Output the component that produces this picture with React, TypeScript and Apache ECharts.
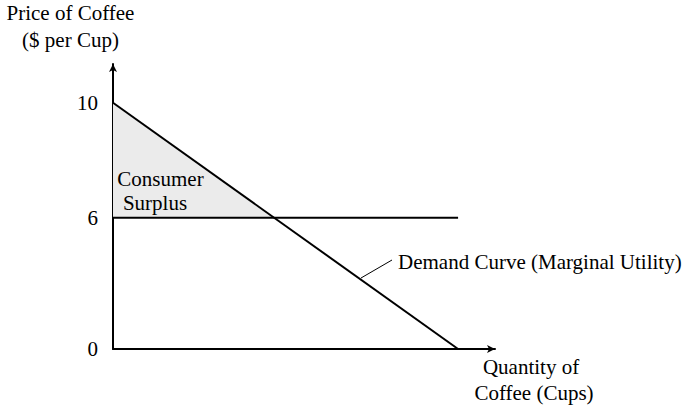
import React, { useEffect, useRef } from "react";
import * as echarts from "echarts";

// Schematic (not-to-scale) diagram values.
// Price axis: tick labels and their schematic positions on the drawn axis.
const priceTickLabels = ["0", "6", "10"];
const priceTickPos = [0, 8, 15];
// Demand curve (marginal utility): from the price-10 intercept down to the quantity axis.
const demandQ = [0, 10];
const demandP = [15, 0];
// Market price line (price 6) drawn across to the demand intercept.
const priceLineQ = [0, 10];
const priceLineP = [8, 8];
// Consumer surplus triangle: price-10 intercept, equilibrium point, price-6 on the axis.
const surplusQ = [0, 4.67, 0];
const surplusP = [15, 8, 8];

const FONT = "Liberation Serif, Times New Roman, serif";

export default function App() {
  const ref = useRef<HTMLDivElement>(null);
  useEffect(() => {
    if (!ref.current) return;
    const chart = echarts.init(ref.current, undefined, { renderer: "svg" });
    const labelFor = (v: number) => {
      const i = priceTickPos.indexOf(v);
      return i >= 0 ? priceTickLabels[i] : "";
    };
    chart.setOption({
      animation: false,
      backgroundColor: "#ffffff",
      grid: { left: 113, top: 64, right: 191, bottom: 57, containLabel: false },
      xAxis: {
        type: "value",
        min: 0,
        max: 11.07,
        splitLine: { show: false },
        axisTick: { show: false },
        axisLabel: { show: false },
        axisLine: {
          show: true,
          onZero: false,
          symbol: ["none", "arrow"],
          symbolSize: [6, 8],
          lineStyle: { color: "#000", width: 2 },
        },
      },
      yAxis: {
        type: "value",
        min: 0,
        max: 17.36,
        interval: 1,
        splitLine: { show: false },
        axisTick: { show: false },
        axisLabel: {
          show: true,
          margin: 15,
          color: "#000",
          fontSize: 21,
          fontFamily: FONT,
          formatter: (v: number) => labelFor(v),
        },
        axisLine: {
          show: true,
          onZero: false,
          symbol: ["none", "arrow"],
          symbolSize: [6, 8],
          lineStyle: { color: "#000", width: 2 },
        },
      },
      series: [
        {
          type: "custom",
          name: "Consumer Surplus",
          silent: true,
          z: 1,
          data: [0],
          renderItem: (_params: any, api: any) => {
            const pts = surplusQ.map((q, i) => api.coord([q, surplusP[i]]));
            return {
              type: "polygon",
              shape: { points: pts },
              style: { fill: "#ebebeb", stroke: "none" },
            };
          },
        },
        {
          type: "line",
          name: "Price",
          symbol: "none",
          z: 3,
          data: priceLineQ.map((q, i) => [q, priceLineP[i]]),
          lineStyle: { color: "#000", width: 2 },
        },
        {
          type: "line",
          name: "Demand Curve (Marginal Utility)",
          symbol: "none",
          z: 3,
          data: demandQ.map((q, i) => [q, demandP[i]]),
          lineStyle: { color: "#000", width: 2 },
        },
      ],
      graphic: [
        {
          type: "text",
          x: 70.5,
          y: 12.5,
          style: { text: "Price of Coffee", fill: "#000", font: `21px ${FONT}`, align: "center", verticalAlign: "middle" },
        },
        {
          type: "text",
          x: 70.5,
          y: 39.5,
          style: { text: "($ per Cup)", fill: "#000", font: `21px ${FONT}`, align: "center", verticalAlign: "middle" },
        },
        {
          type: "text",
          x: 531,
          y: 367,
          style: { text: "Quantity of", fill: "#000", font: `21px ${FONT}`, align: "center", verticalAlign: "middle" },
        },
        {
          type: "text",
          x: 534,
          y: 393,
          style: { text: "Coffee (Cups)", fill: "#000", font: `21px ${FONT}`, align: "center", verticalAlign: "middle" },
        },
        {
          type: "text",
          x: 160.5,
          y: 179,
          z: 10,
          style: { text: "Consumer", fill: "#000", font: `21px ${FONT}`, align: "center", verticalAlign: "middle" },
        },
        {
          type: "text",
          x: 155,
          y: 203,
          z: 10,
          style: { text: "Surplus", fill: "#000", font: `21px ${FONT}`, align: "center", verticalAlign: "middle" },
        },
        {
          type: "text",
          x: 398,
          y: 261.5,
          style: { text: "Demand Curve (Marginal Utility)", fill: "#000", font: `21px ${FONT}`, align: "left", verticalAlign: "middle" },
        },
        {
          type: "line",
          shape: { x1: 361, y1: 278, x2: 392, y2: 260 },
          style: { stroke: "#000", lineWidth: 1 },
        },
      ],
    });
    return () => chart.dispose();
  }, []);
  return (
    <div
      ref={ref}
      style={{ position: "fixed", left: 0, top: 0, width: 686, height: 406 }}
    />
  );
}
